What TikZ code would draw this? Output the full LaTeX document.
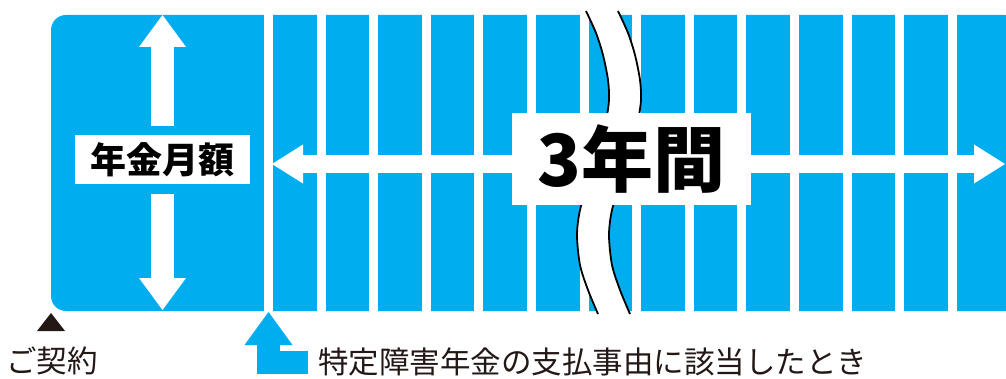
\documentclass[tikz,border=0pt]{standalone}
\usepackage{fontspec}
\newfontfamily\jpfont{Noto Sans CJK JP}
\usetikzlibrary{arrows.meta,positioning}
\definecolor{plancyan}{HTML}{00AEEF}
\definecolor{inkblack}{HTML}{231815}

\begin{document}
\begin{tikzpicture}[x=1pt, y=-1pt,
    labelbox/.style={fill=white, inner sep=0pt, text=black},
    amountarrow/.style={draw=white, line width=23pt, -{Triangle[width=47pt, length=32pt, line width=0pt]}},
    spanarrow/.style={draw=white, line width=18pt, {Triangle[width=39pt, length=31pt, line width=0pt]}-{Triangle[width=39pt, length=31pt, line width=0pt]}},
    eventarrow/.style={draw=plancyan, line width=23pt, -{Triangle[width=48pt, length=33pt, line width=0pt]}},
    breakline/.style={draw=black, line width=1.8pt},
    caption/.style={inner sep=0pt, anchor=west, text=inkblack, font=\jpfont\fontsize{30.5}{30.5}\selectfont}
]
    \useasboundingbox (0,0) rectangle (1006,379);
    \begin{scope}
        \clip (0,0) rectangle (1006,379);
        \fill[plancyan, rounded corners=15pt] (51,15) rectangle (1020,311);
    \end{scope}
    % gaps between the monthly columns
    \foreach \i in {0,...,13} \fill[white] (264+52.6*\i,13) rectangle +(9,300);
    % break mark
    \fill[white] plot[smooth] coordinates {(586,11) (596,33) (603,55) (608,80) (609,100) (606,120) (598,150) (589,180) (580,210) (577,235) (580,265) (588,290) (598,314)}
        -- plot[smooth] coordinates {(630,314) (620,290) (612,265) (609,235) (612,210) (621,180) (630,150) (638,120) (641,100) (640,80) (635,55) (628,33) (618,11)} -- cycle;
    \foreach \dx in {0,32} \draw[breakline, xshift=\dx] plot[smooth] coordinates {(586,11) (596,33) (603,55) (608,80) (609,100) (606,120) (598,150) (589,180) (580,210) (577,235) (580,265) (588,290) (598,314)};
    % three years
    \coordinate (spanL) at (272,164);
    \coordinate (spanR) at (1005,164);
    \draw[spanarrow] (spanL) -- (spanR);
    \node[labelbox, minimum width=239pt, minimum height=92pt, font=\jpfont\bfseries\fontsize{72}{72}\selectfont] (period) at (631.5,159) {3年間};
    % monthly amount
    \node[labelbox, minimum width=175pt, minimum height=49pt, font=\jpfont\bfseries\fontsize{36}{36}\selectfont] (amount) at (162.5,159.5) {年金月額};
    \coordinate (amountTop) at (162.5,15);
    \coordinate (amountBot) at (162.5,310);
    \draw[amountarrow, shorten <=9pt] (amount.north) -- (amountTop);
    \draw[amountarrow, shorten <=10pt] (amount.south) -- (amountBot);
    % bottom labels
    \fill[inkblack] (37,331) -- (65,331) -- (51,313) -- cycle;
    \node[caption] (start) at (6,361) {ご契約};
    \node[caption] (event) at (318,362) {特定障害年金の支払事由に該当したとき};
    \coordinate (eventTip) at (268.5,312);
    \draw[eventarrow, shorten <=10pt] (event.west) -| (eventTip);
\end{tikzpicture}
\end{document}
